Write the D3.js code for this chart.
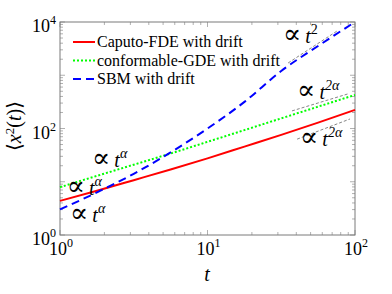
<!DOCTYPE html>
<html>
<head>
<meta charset="utf-8">
<script src="https://cdn.jsdelivr.net/npm/d3@7"></script>
<style>
  body { margin: 0; background: #fff; }
  text { font-family: "Liberation Serif", "Times New Roman", Times, Tinos, "DejaVu Serif", "Noto Serif", serif; }
</style>
</head>
<body>
<svg id="chart" width="392" height="294"></svg>
<script>
// times (log spaced, quarter decades)
var times = [1, 1.78, 3.16, 5.62, 10, 17.8, 31.6, 56.2, 100];
// series values
var caputo = [4.37, 6.76, 10.7, 17.0, 27.5, 45.7, 75.9, 129, 224];
var conformable = [7.94, 12.9, 20.9, 33.9, 56.2, 93.3, 155, 257, 427];
var sbm = [3.02, 6.31, 14.1, 35.5, 100, 316, 1202, 3548, 10000];
var seriesNames = ["Caputo-FDE with drift", "conformable-GDE with drift", "SBM with drift"];

// thin guide lines [t, value]
var guideT2 = [[35.2, 1700], [75.5, 6760]];
var guideGreen = [[37.4, 214], [89.7, 447]];
var guideRed = [[40.5, 63.1], [92.5, 151]];

// annotations: [t, value, exponent]
var notes = [
  [1.65, 18.9, "α"],
  [1.11, 5.64, "α"],
  [1.17, 1.75, "α"],
  [32.5, 4034, "2"],
  [40.5, 358, "2α"],
  [42.4, 46.9, "2α"]
];

var xTicks = [1, 10, 100];
var yTicks = [1, 100, 10000];

var svg = d3.select("#chart");
var plotL = 60, plotR = 355, plotT = 22, plotB = 235;

var x = d3.scaleLog().domain([1, 100]).range([plotL, plotR]);
var y = d3.scaleLog().domain([1, 10000]).range([plotB, plotT]);

// minor + major ticks on all four sides
var axisColor = "#7a7a7a";
var gTicks = svg.append("g").attr("stroke", axisColor).attr("stroke-width", 0.6);
x.ticks().forEach(function(v) {
  var len = xTicks.indexOf(v) >= 0 ? 5 : 3;
  gTicks.append("line").attr("x1", x(v)).attr("x2", x(v)).attr("y1", plotB).attr("y2", plotB - len);
  gTicks.append("line").attr("x1", x(v)).attr("x2", x(v)).attr("y1", plotT).attr("y2", plotT + len);
});
y.ticks().forEach(function(v) {
  var len = yTicks.indexOf(v) >= 0 || v === 10 || v === 1000 ? 5 : 3;
  gTicks.append("line").attr("y1", y(v)).attr("y2", y(v)).attr("x1", plotL).attr("x2", plotL + len);
  gTicks.append("line").attr("y1", y(v)).attr("y2", y(v)).attr("x1", plotR).attr("x2", plotR - len);
});

// frame
svg.append("rect").attr("x", plotL).attr("y", plotT)
  .attr("width", plotR - plotL).attr("height", plotB - plotT)
  .attr("fill", "none").attr("stroke", axisColor).attr("stroke-width", 1);

// tick labels
function powLabel(sel, exp) {
  sel.append("tspan").text("10");
  sel.append("tspan").attr("dy", -8).attr("font-size", 12).text(exp);
}
xTicks.forEach(function(v) {
  var t = svg.append("text").attr("x", x(v) + 1).attr("y", 255)
    .attr("text-anchor", "middle").attr("font-size", 18);
  powLabel(t, Math.round(Math.log10(v)));
});
yTicks.forEach(function(v) {
  var t = svg.append("text").attr("x", 56).attr("y", y(v) + 10)
    .attr("text-anchor", "end").attr("font-size", 18);
  powLabel(t, Math.round(Math.log10(v)));
});

// axis titles
svg.append("text").attr("x", 207).attr("y", 281).attr("text-anchor", "middle")
  .attr("font-size", 20).attr("font-style", "italic").text("t");
var yl = svg.append("text").attr("transform", "translate(21,126) rotate(-90)")
  .attr("text-anchor", "middle").attr("font-size", 20);
yl.append("tspan").text("⟨");
yl.append("tspan").attr("font-style", "italic").text("x");
yl.append("tspan").attr("dy", -7).attr("font-size", 13).text("2");
yl.append("tspan").attr("dy", 7).text("(");
yl.append("tspan").attr("font-style", "italic").text("t");
yl.append("tspan").text(")⟩");

// guides
var line = d3.line().x(function(d) { return x(d[0]); }).y(function(d) { return y(d[1]); });
[guideT2, guideGreen, guideRed].forEach(function(g) {
  svg.append("path").datum(g).attr("d", line).attr("fill", "none")
    .attr("stroke", "#333").attr("stroke-width", 0.6).attr("stroke-dasharray", "3,2");
});

// series
var series = [
  {vals: caputo, color: "#ff0000", dash: null},
  {vals: conformable, color: "#00ff00", dash: "2,2"},
  {vals: sbm, color: "#0000ff", dash: "8,5"}
];
var curve = d3.line().curve(d3.curveMonotoneX)
  .x(function(d) { return x(d[0]); }).y(function(d) { return y(d[1]); });
series.forEach(function(s) {
  svg.append("path").datum(d3.zip(times, s.vals)).attr("d", curve)
    .attr("fill", "none").attr("stroke", s.color).attr("stroke-width", 2)
    .attr("stroke-dasharray", s.dash);
});

// annotations
notes.forEach(function(n) {
  var t = svg.append("text").attr("x", x(n[0])).attr("y", y(n[1])).attr("font-size", 20);
  t.append("tspan").attr("font-size", 27).text("∝");
  t.append("tspan").attr("font-style", "italic").attr("dx", 4).text("t");
  t.append("tspan").attr("dy", -9).attr("font-size", 14)
    .attr("font-style", n[2] === "2" ? "normal" : "italic").text(n[2]);
});

// legend
var legend = svg.append("g");
series.forEach(function(s, i) {
  var ly = 42 + i * 18.5;
  legend.append("line").attr("x1", 73).attr("x2", 95).attr("y1", ly).attr("y2", ly)
    .attr("stroke", s.color).attr("stroke-width", 2).attr("stroke-dasharray", s.dash);
  legend.append("text").attr("x", 97).attr("y", ly + 5).attr("font-size", 16)
    .text(seriesNames[i]);
});
</script>
</body>
</html>
